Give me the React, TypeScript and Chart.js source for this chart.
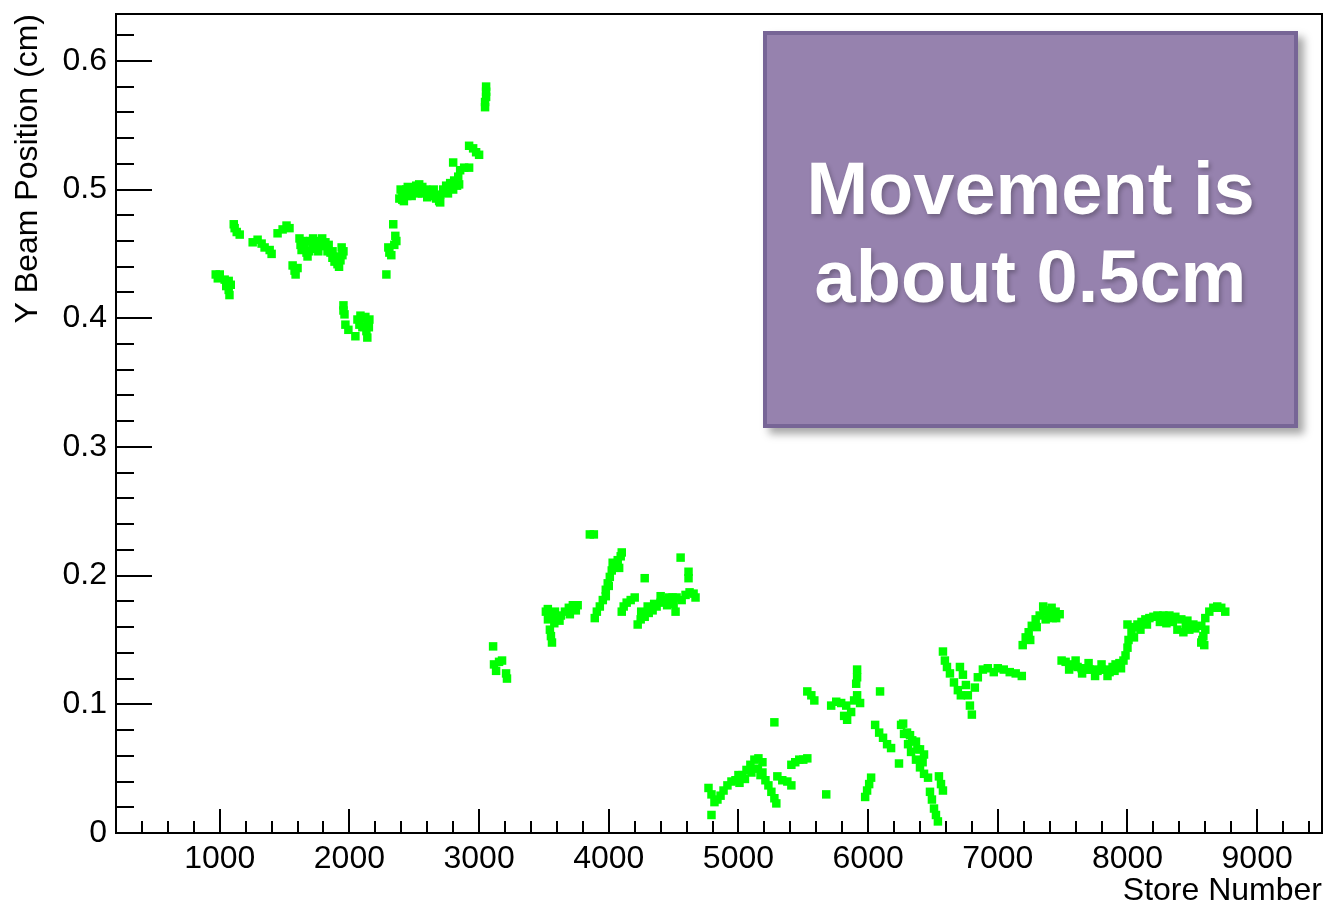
import React, { useEffect, useRef } from "react";
import { Chart, registerables } from "chart.js";

Chart.register(...registerables);

// Store number ranges (x) and Y beam position in cm (y)
const period1: [number, number][] = [
  [969, 0.434], [1000, 0.434], [1038, 0.430], [1069, 0.429], [1085, 0.426], [1069, 0.422],
  [985, 0.431], [1050, 0.425], [1075, 0.418],
  [1108, 0.473], [1115, 0.470], [1131, 0.467], [1154, 0.465],
  [1254, 0.459], [1292, 0.461], [1323, 0.458], [1346, 0.455], [1385, 0.453], [1400, 0.450],
  [1446, 0.466], [1485, 0.469], [1515, 0.472], [1538, 0.470],
  [1562, 0.441], [1577, 0.437], [1585, 0.434], [1600, 0.439],
  [1615, 0.462], [1623, 0.457], [1631, 0.453], [1654, 0.455], [1669, 0.451], [1677, 0.448],
  [1700, 0.460], [1715, 0.456], [1731, 0.454], [1754, 0.458], [1777, 0.460], [1800, 0.456],
  [1815, 0.459], [1831, 0.452], [1854, 0.451], [1869, 0.447], [1885, 0.444], [1908, 0.442],
  [1931, 0.445], [1946, 0.449], [1954, 0.452],
  [1640, 0.460], [1690, 0.452], [1720, 0.462], [1760, 0.452], [1790, 0.462], [1840, 0.457],
  [1870, 0.452], [1900, 0.448], [1920, 0.440], [1940, 0.455],
  [1954, 0.410], [1954, 0.406], [1962, 0.403], [1969, 0.395], [1992, 0.391], [2046, 0.386],
  [2062, 0.399], [2092, 0.400], [2123, 0.401], [2154, 0.399], [2077, 0.395], [2138, 0.395],
  [2131, 0.390], [2138, 0.385], [2100, 0.393], [2150, 0.393], [2085, 0.402],
];

const period2: [number, number][] = [
  [2285, 0.434], [2300, 0.455], [2308, 0.451], [2323, 0.449], [2354, 0.464], [2362, 0.460],
  [2346, 0.457], [2338, 0.473],
  [2385, 0.493], [2408, 0.496], [2423, 0.498], [2438, 0.500], [2408, 0.492], [2446, 0.495],
  [2469, 0.497], [2485, 0.501], [2515, 0.503], [2538, 0.504], [2562, 0.502],
  [2592, 0.500], [2623, 0.498], [2646, 0.495], [2669, 0.493], [2692, 0.491],
  [2700, 0.496], [2723, 0.500], [2746, 0.503],
  [2777, 0.505], [2808, 0.507], [2839, 0.510], [2846, 0.504], [2800, 0.521],
  [2854, 0.515], [2885, 0.517], [2923, 0.517],
  [2395, 0.500], [2420, 0.491], [2450, 0.502], [2480, 0.495], [2530, 0.497], [2560, 0.497],
  [2600, 0.494], [2650, 0.500], [2700, 0.490], [2760, 0.497], [2800, 0.500], [2830, 0.503],
  [2923, 0.534], [2954, 0.532], [2977, 0.529], [3000, 0.527],
  [3054, 0.580], [3054, 0.576], [3054, 0.572], [3046, 0.568], [3046, 0.564],
];

const period3: [number, number][] = [
  [3108, 0.145], [3115, 0.131], [3131, 0.126], [3154, 0.133], [3177, 0.134], [3208, 0.124], [3215, 0.120],
  [3515, 0.172], [3531, 0.166], [3562, 0.168], [3585, 0.172], [3600, 0.166], [3546, 0.158],
  [3554, 0.153], [3562, 0.148],
  [3530, 0.174], [3580, 0.163], [3620, 0.165], [3700, 0.170], [3760, 0.177],
  [3631, 0.169], [3662, 0.172], [3692, 0.175], [3723, 0.177], [3746, 0.173],
  [3854, 0.232], [3885, 0.232],
  [3892, 0.167], [3908, 0.172], [3931, 0.176], [3954, 0.181], [3977, 0.184],
  [3977, 0.189], [3992, 0.194], [4008, 0.199], [4023, 0.204], [4046, 0.208], [4069, 0.212],
  [4092, 0.215], [4100, 0.218], [4000, 0.192], [4030, 0.210], [4080, 0.206],
  [4277, 0.198],
  [4100, 0.172], [4115, 0.176], [4138, 0.179], [4169, 0.181], [4200, 0.183],
  [4223, 0.162], [4246, 0.166], [4277, 0.168], [4308, 0.171], [4338, 0.173], [4369, 0.176],
  [4400, 0.179], [4431, 0.181], [4462, 0.183], [4492, 0.183], [4523, 0.183],
  [4250, 0.172], [4300, 0.176], [4350, 0.178], [4400, 0.184], [4450, 0.177], [4500, 0.178],
  [4554, 0.214], [4615, 0.203], [4615, 0.198], [4515, 0.172],
  [4562, 0.181], [4592, 0.185], [4623, 0.187], [4654, 0.186], [4669, 0.183],
];

const period4: [number, number][] = [
  [4792, 0.014], [4769, 0.035], [4792, 0.030], [4815, 0.024], [4838, 0.026], [4862, 0.029],
  [4885, 0.033], [4915, 0.037], [4946, 0.040], [4977, 0.041], [5008, 0.039],
  [5031, 0.045], [5062, 0.049], [5092, 0.053], [5123, 0.057], [5154, 0.058], [5185, 0.055],
  [5000, 0.045], [5050, 0.042], [5100, 0.047], [5150, 0.050], [5170, 0.045],
  [5185, 0.047], [5208, 0.041], [5231, 0.037], [5254, 0.032], [5277, 0.027], [5292, 0.023],
  [5300, 0.044], [5338, 0.041], [5377, 0.040], [5408, 0.037],
  [5277, 0.086],
  [5408, 0.053], [5438, 0.055], [5469, 0.057], [5500, 0.057], [5531, 0.058],
  [5677, 0.030],
  [5531, 0.110], [5562, 0.107], [5585, 0.103],
  [5715, 0.099], [5754, 0.102], [5792, 0.101], [5831, 0.099], [5815, 0.091], [5838, 0.088], [5869, 0.094],
  [5892, 0.103], [5915, 0.107], [5938, 0.101], [5915, 0.127], [5915, 0.121], [5908, 0.116],
  [6092, 0.110],
  [5977, 0.028], [5992, 0.033], [6008, 0.038], [6023, 0.043],
];

const period5: [number, number][] = [
  [6054, 0.084], [6085, 0.078], [6115, 0.074], [6146, 0.069], [6177, 0.066],
  [6238, 0.054],
  [6254, 0.084], [6277, 0.077], [6308, 0.069], [6331, 0.063], [6369, 0.057], [6400, 0.051],
  [6431, 0.046], [6462, 0.043],
  [6323, 0.076], [6369, 0.071], [6400, 0.065], [6431, 0.061],
  [6270, 0.085], [6300, 0.078], [6340, 0.072], [6380, 0.065], [6420, 0.055],
  [6477, 0.032], [6492, 0.026], [6508, 0.019], [6523, 0.014], [6538, 0.009],
  [6546, 0.044], [6562, 0.038], [6577, 0.033],
];

const period6: [number, number][] = [
  [6577, 0.141], [6592, 0.134], [6608, 0.129], [6631, 0.124], [6662, 0.117], [6692, 0.111], [6715, 0.107],
  [6708, 0.129], [6731, 0.123], [6754, 0.115], [6769, 0.107], [6785, 0.099], [6800, 0.092],
  [6846, 0.121], [6885, 0.127], [6923, 0.128], [6969, 0.125], [6823, 0.113],
  [7000, 0.128], [7046, 0.127], [7092, 0.125], [7138, 0.124], [7185, 0.122],
  [7192, 0.146], [7215, 0.152], [7238, 0.156], [7262, 0.161], [7292, 0.166], [7323, 0.169],
  [7354, 0.172], [7385, 0.173], [7415, 0.175], [7446, 0.172], [7477, 0.170], [7423, 0.167], [7369, 0.166],
  [7250, 0.150], [7300, 0.160], [7350, 0.176], [7400, 0.170], [7450, 0.167],
];

const period7: [number, number][] = [
  [7492, 0.134], [7523, 0.133], [7554, 0.131], [7585, 0.130], [7615, 0.129], [7646, 0.128],
  [7677, 0.127], [7708, 0.127], [7738, 0.127], [7769, 0.126], [7800, 0.127], [7831, 0.127],
  [7862, 0.125], [7885, 0.129], [7908, 0.131], [7938, 0.132], [7969, 0.134], [7846, 0.122],
  [7550, 0.127], [7600, 0.134], [7650, 0.124], [7700, 0.132], [7750, 0.122], [7800, 0.131],
  [7900, 0.126], [7950, 0.128],
  [7985, 0.138], [8000, 0.144], [8008, 0.150], [8031, 0.156], [8054, 0.160], [8077, 0.162],
  [8108, 0.164], [8138, 0.166], [8169, 0.167], [8200, 0.168], [8000, 0.162],
  [8050, 0.152], [8100, 0.158], [8150, 0.162], [8250, 0.164], [8300, 0.163], [8350, 0.164], [8450, 0.160],
  [8231, 0.169], [8277, 0.169], [8323, 0.169], [8369, 0.168], [8415, 0.166], [8462, 0.165], [8508, 0.162],
  [8385, 0.158], [8431, 0.156], [8477, 0.158], [8523, 0.159], [8569, 0.161], [8600, 0.158],
  [8577, 0.150], [8592, 0.146], [8569, 0.148], [8585, 0.153],
  [8600, 0.167], [8631, 0.172], [8662, 0.175], [8692, 0.176], [8723, 0.175], [8754, 0.172],
];

const xTickValues = [1000, 2000, 3000, 4000, 5000, 6000, 7000, 8000, 9000];
const xTickLabels = ["1000", "2000", "3000", "4000", "5000", "6000", "7000", "8000", "9000"];
const yTickValues = [0, 0.1, 0.2, 0.3, 0.4, 0.5, 0.6];
const yTickLabels = ["0", "0.1", "0.2", "0.3", "0.4", "0.5", "0.6"];

const X_MIN = 200;
const X_MAX = 9500;
const Y_MIN = 0;
const Y_MAX = 0.6364;
const X_MINOR = 200;
const Y_MINOR = 0.02;

const FONT = "'Liberation Sans', Arial, Helvetica, sans-serif";

const rootFrame = {
  id: "rootFrame",
  afterDraw(chart: any) {
    const { ctx, chartArea: a, scales } = chart;
    const xs = scales.x;
    const ys = scales.y;
    ctx.save();
    ctx.strokeStyle = "#000";
    ctx.lineWidth = 2;
    ctx.beginPath();
    const nx = Math.round((X_MAX - X_MIN) / X_MINOR);
    for (let i = 0; i < nx; i++) {
      const v = X_MIN + i * X_MINOR;
      const px = Math.round(xs.getPixelForValue(v));
      const len = v % 1000 === 0 ? 24 : 12;
      ctx.moveTo(px, a.bottom);
      ctx.lineTo(px, a.bottom - len);
    }
    const ny = Math.floor((Y_MAX - Y_MIN) / Y_MINOR + 1e-6);
    for (let i = 0; i <= ny; i++) {
      const v = Y_MIN + i * Y_MINOR;
      const py = Math.round(ys.getPixelForValue(v));
      const len = i % 5 === 0 ? 36 : 18;
      ctx.moveTo(a.left, py);
      ctx.lineTo(a.left + len, py);
    }
    ctx.stroke();
    ctx.strokeRect(a.left, a.top, a.right - a.left, a.bottom - a.top);
    ctx.restore();
  },
};

export default function App() {
  const ref = useRef<HTMLCanvasElement | null>(null);

  useEffect(() => {
    if (!ref.current) return;
    const points = [...period1, ...period2, ...period3, ...period4, ...period5, ...period6, ...period7].map(
      ([x, y]) => ({ x, y })
    );
    const chart = new Chart(ref.current, {
      type: "scatter",
      data: {
        datasets: [
          {
            data: points,
            pointStyle: "rect",
            pointRadius: 6,
            pointBorderWidth: 0,
            backgroundColor: "#00ff00",
            borderColor: "#00ff00",
          },
        ],
      },
      options: {
        animation: false,
        responsive: false,
        devicePixelRatio: 1,
        layout: { padding: { left: 0, top: 14, right: 3, bottom: 0 } },
        plugins: { legend: { display: false }, tooltip: { enabled: false } },
        scales: {
          x: {
            type: "linear",
            min: X_MIN,
            max: X_MAX,
            grid: { display: false, drawTicks: false },
            border: { display: false },
            afterBuildTicks: (s: any) => {
              s.ticks = xTickValues.map((v) => ({ value: v }));
            },
            afterFit: (s: any) => {
              s.height = 74;
              s.paddingLeft = 0;
              s.paddingRight = 0;
            },
            ticks: {
              autoSkip: false,
              maxRotation: 0,
              padding: 7,
              color: "#000",
              font: { family: FONT, size: 32 },
              callback: (_v: any, i: number) => xTickLabels[i],
            },
            title: {
              display: true,
              text: "Store Number",
              align: "end",
              color: "#000",
              font: { family: FONT, size: 32, lineHeight: 1 },
              padding: 0,
            },
          },
          y: {
            type: "linear",
            min: Y_MIN,
            max: Y_MAX,
            grid: { display: false, drawTicks: false },
            border: { display: false },
            afterBuildTicks: (s: any) => {
              s.ticks = yTickValues.map((v) => ({ value: v }));
            },
            afterFit: (s: any) => {
              s.width = 116;
              s.paddingTop = 0;
              s.paddingBottom = 0;
            },
            ticks: {
              padding: 9,
              color: "#000",
              font: { family: FONT, size: 32 },
              callback: (_v: any, i: number) => yTickLabels[i],
            },
            title: {
              display: true,
              text: "Y Beam Position (cm)",
              align: "end",
              color: "#000",
              font: { family: FONT, size: 32, lineHeight: 1 },
              padding: { top: 12, bottom: 0 },
            },
          },
        },
      },
      plugins: [rootFrame],
    });
    return () => chart.destroy();
  }, []);

  return (
    <div style={{ position: "absolute", left: 0, top: 0, width: 1328, height: 907, background: "#fff" }}>
      <canvas ref={ref} width={1328} height={907} style={{ display: "block" }} />
      <div
        style={{
          position: "absolute",
          left: 763,
          top: 31,
          width: 535,
          height: 397,
          boxSizing: "border-box",
          background: "#9682ae",
          border: "4px solid #776596",
          boxShadow: "6px 6px 8px rgba(0,0,0,0.35)",
        }}
      >
        <div
          style={{
            position: "absolute",
            left: 0,
            right: 0,
            top: 110,
            textAlign: "center",
            color: "#fff",
            fontFamily: FONT,
            fontWeight: "bold",
            fontSize: 74,
            lineHeight: "88px",
            textShadow: "2px 3px 4px rgba(0,0,0,0.25)",
            whiteSpace: "nowrap",
          }}
        >
          Movement is
          <br />
          about 0.5cm
        </div>
      </div>
    </div>
  );
}
